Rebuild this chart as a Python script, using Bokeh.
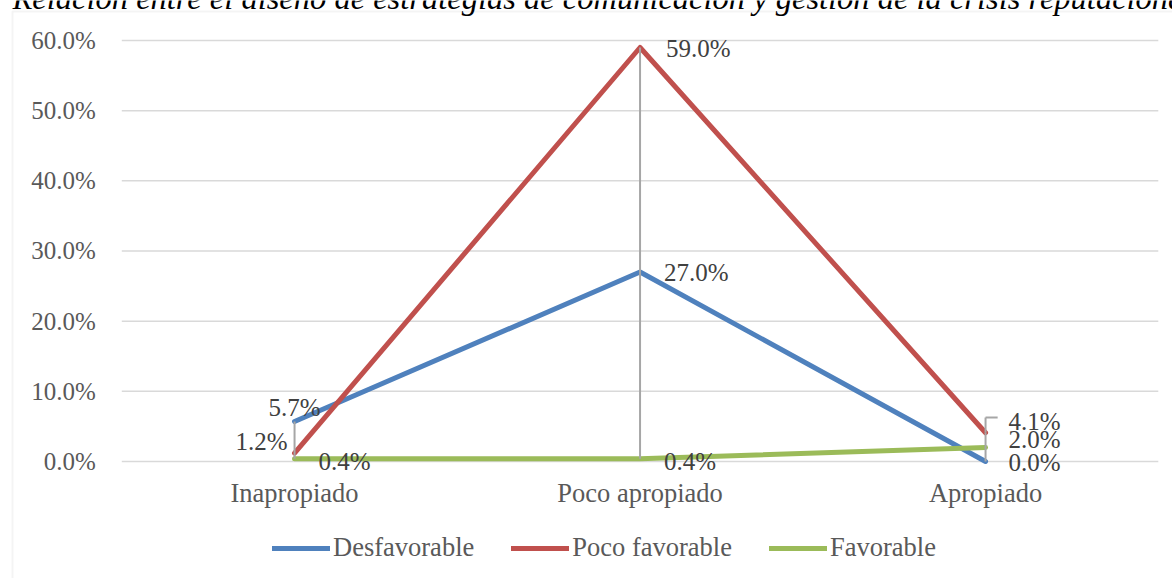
from bokeh.plotting import figure
from bokeh.models import (Range1d, PrintfTickFormatter, FixedTicker, ColumnDataSource,
                          Legend, LegendItem, Label, BoxAnnotation)
from bokeh.core.properties import value
from bokeh.embed import file_html
from bokeh.resources import INLINE

# ---------------- data ----------------
categories = ["Inapropiado", "Poco apropiado", "Apropiado"]
series_names = ["Desfavorable", "Poco favorable", "Favorable"]
desfavorable = [5.7, 27.0, 0.0]
poco_favorable = [1.2, 59.0, 4.1]
favorable = [0.4, 0.4, 2.0]
y_ticks = [0, 10, 20, 30, 40, 50, 60]
title_text = ("Relación entre el diseño de estrategias de comunicación y "
              "gestión de la crisis reputacional")

# ---------------- styles / geometry ----------------
W, H = 1172, 578
colors = ["#4F81BD", "#C0504D", "#9BBB59"]
FONT = "Liberation Serif"
PX_PER_CAT = 345.5          # horizontal size of one category slot (px)
PX_PER_PCT = 7.017          # vertical size of one percentage point (px)
AREA_LEFT, ZERO_Y = 121.3, 461.0   # plot-area left edge and 0% line (px)
label_dx = [[-26, 24, 23], [-59, 26, 23], [24, 24, 23]]
label_dy = [[-14, 0, 1], [-12, 1, -11], [3, 3, -8]]

series = [desfavorable, poco_favorable, favorable]
xs = [i + 0.5 for i in range(len(categories))]
n_cat = len(categories)

x_start = -AREA_LEFT / PX_PER_CAT
x_end = x_start + W / PX_PER_CAT
y_end = ZERO_Y / PX_PER_PCT
y_start = -(H - ZERO_Y) / PX_PER_PCT

p = figure(width=W, height=H, x_range=Range1d(x_start, x_end),
           y_range=Range1d(y_start, y_end), output_backend="svg",
           toolbar_location=None, min_border=0)
p.min_border_left = p.min_border_right = p.min_border_top = p.min_border_bottom = 0
p.outline_line_color = None
p.background_fill_color = "white"
p.border_fill_color = "white"
p.title.visible = False
p.xgrid.visible = False
p.ygrid.visible = False

# outer chart border (only left and top edges fall inside the window)
p.add_layout(BoxAnnotation(left=x_start + 12 / PX_PER_CAT, right=x_end + 1,
                           top=y_end - 11 / PX_PER_PCT, bottom=y_start - 5,
                           fill_alpha=0, fill_color=None,
                           line_color="#D9D9D9", line_width=2, level="underlay"))

# horizontal gridlines across the plot area
p.segment(x0=[0] * len(y_ticks), x1=[n_cat] * len(y_ticks), y0=y_ticks, y1=y_ticks,
          line_color="#D9D9D9", line_width=1.5, level="underlay")

# axes placed at the plot-area edges
p.yaxis.fixed_location = 0
p.yaxis.ticker = FixedTicker(ticks=y_ticks)
p.yaxis.formatter = PrintfTickFormatter(format="%.1f%%")
p.yaxis.axis_line_color = None
p.yaxis.major_tick_line_color = None
p.yaxis.minor_tick_line_color = None
p.yaxis.major_tick_out = 0
p.yaxis.major_label_standoff = 26
p.yaxis.major_label_text_font = FONT
p.yaxis.major_label_text_font_size = "25px"
p.yaxis.major_label_text_color = "#595959"

p.xaxis.fixed_location = 0
p.xaxis.ticker = FixedTicker(ticks=xs)
p.xaxis.major_label_overrides = {x: c for x, c in zip(xs, categories)}
p.xaxis.axis_line_color = None
p.xaxis.major_tick_line_color = None
p.xaxis.minor_tick_line_color = None
p.xaxis.major_tick_out = 0
p.xaxis.major_label_standoff = 16
p.xaxis.major_label_text_font = FONT
p.xaxis.major_label_text_font_size = "26.5px"
p.xaxis.major_label_text_color = "#595959"

# series lines
items = []
for name, vals, col in zip(series_names, series, colors):
    r = p.line(x=xs, y=vals, line_color=col, line_width=5,
               line_cap="round", line_join="round")
    items.append(LegendItem(label=name, renderers=[r]))

# high-low lines
hi = [max(v) for v in zip(*series)]
lo = [min(v) for v in zip(*series)]
p.segment(x0=xs, y0=hi, x1=xs, y1=lo, line_color="#A6A6A6", line_width=2)

# leader line for the 4.1% label
leader_rise, leader_run = 2.17, 0.035
p.segment(x0=[xs[2]], y0=[poco_favorable[2]], x1=[xs[2]],
          y1=[poco_favorable[2] + leader_rise], line_color="#A6A6A6", line_width=2)
p.segment(x0=[xs[2]], y0=[poco_favorable[2] + leader_rise], x1=[xs[2] + leader_run],
          y1=[poco_favorable[2] + leader_rise], line_color="#A6A6A6", line_width=2)

# data labels
lx, ly, lt, ldx, ldy = [], [], [], [], []
for si, vals in enumerate(series):
    for ci, v in enumerate(vals):
        lx.append(xs[ci]); ly.append(v); lt.append(f"{v:.1f}%")
        ldx.append(label_dx[si][ci]); ldy.append(label_dy[si][ci])
src = ColumnDataSource(dict(x=lx, y=ly, t=lt, dx=ldx, dy=ldy))
p.text(x="x", y="y", text="t", x_offset="dx", y_offset="dy", source=src,
       text_font=value(FONT), text_font_size="25px", text_color="#404040",
       text_align="left", text_baseline="middle")

# legend
legend = Legend(items=items, orientation="horizontal", location=(272, 15),
                glyph_width=58, glyph_height=20, label_standoff=3, spacing=37,
                padding=0, margin=0, border_line_color=None,
                background_fill_alpha=0, label_text_font=FONT,
                label_text_font_size="26.5px", label_text_color="#595959")
p.add_layout(legend)

# title (cut off at the top of the window, as in the reference)
p.add_layout(Label(x=12, y=H + 3, x_units="screen", y_units="screen",
                   text=title_text, text_font=FONT, text_font_style="italic",
                   text_font_size="32.5px", text_color="black",
                   text_baseline="alphabetic"))

open("out.html", "w").write(file_html(p, INLINE))
